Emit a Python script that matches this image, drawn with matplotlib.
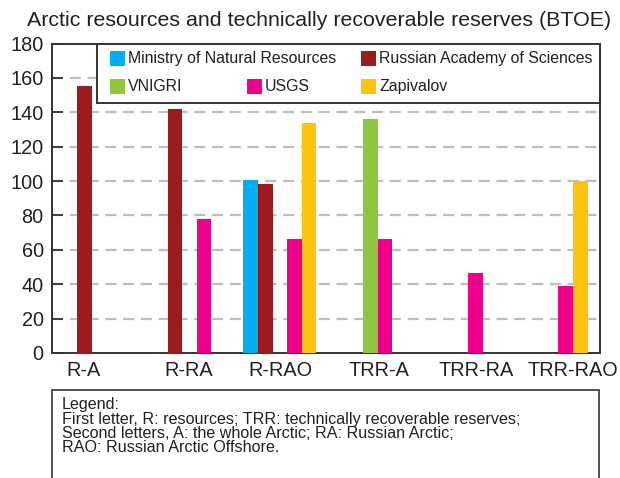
import numpy as np
import matplotlib
matplotlib.use("Agg")
import matplotlib.pyplot as plt
from matplotlib.patches import Rectangle

plt.rcParams['font.family'] = ['Liberation Sans', 'DejaVu Sans']

# data
groups = ["R-A", "R-RA", "R-RAO", "TRR-A", "TRR-RA", "TRR-RAO"]
series_names = ["Ministry of Natural Resources", "Russian Academy of Sciences",
                "VNIGRI", "USGS", "Zapivalov"]
ministry = [np.nan, np.nan, 100.5, np.nan, np.nan, np.nan]
ras = [155, 142, 98, np.nan, np.nan, np.nan]
vnigri = [np.nan, np.nan, np.nan, 136, np.nan, np.nan]
usgs = [np.nan, 78, 66.5, 66.5, 46.5, 39]
zapivalov = [np.nan, np.nan, 134, np.nan, np.nan, 100]
colors = ["#00aeef", "#9b1b1f", "#8dc63f", "#ec008c", "#ffc20e"]

notes = ["Legend:",
         "First letter, R: resources; TRR: technically recoverable reserves;",
         "Second letters, A: the whole Arctic; RA: Russian Arctic;",
         "RAO: Russian Arctic Offshore."]

W, H = 620, 478
txt = "#231f20"
edge = "#333333"


def px(x, y):
    # pixel position -> figure fraction
    return x / W, 1 - y / H


fig = plt.figure(figsize=(6.2, 4.78), dpi=100)
ax = fig.add_axes([52 / W, 1 - 353 / H, (600 - 52) / W, (353 - 43.5) / H])

x = np.arange(len(groups))
w = 0.1615
all_series = [ministry, ras, vnigri, usgs, zapivalov]
for k, vals in enumerate(all_series):
    ax.bar(x + (k - 2) * w, vals, w, color=colors[k], zorder=3, linewidth=0)

ax.set_xlim(-0.52, 5.54)
ax.set_ylim(0, 180)
ax.set_yticks(np.arange(0, 181, 20))
for v in range(20, 180, 20):
    ax.axhline(v, color="#bdbdbd", lw=1.6, ls=(0, (5, 3)), zorder=1)

# tick labels sit a bit off the group centres in the original
label_pos = [-0.17, 0.99, 2.0, 3.09, 4.17, 5.24]
ax.set_xticks(label_pos)
ax.set_xticklabels(groups)
ax.tick_params(axis="x", length=0, pad=6, labelsize=14.3, labelcolor=txt)
ax.tick_params(axis="y", direction="in", length=8, width=1.3, color=edge,
               pad=6, labelsize=14.3, labelcolor=txt)
for s in ax.spines.values():
    s.set_color(edge)
    s.set_linewidth(1.4)

fig.text(27 / W, 1 - 20 / H, "Arctic resources and technically recoverable reserves (BTOE)",
         fontsize=15.4, color=txt, va="center", ha="left")

# legend box at top right
x0, y0 = px(97, 103)
x1, y1 = px(600, 43.5)
ax.add_patch(Rectangle((x0, y0), x1 - x0, y1 - y0, transform=fig.transFigure,
                       facecolor="white", edgecolor=edge, lw=1.4, zorder=5, clip_on=False))
leg_pos = [(110, 58.5), (361, 58.5), (110, 86.5), (247, 86.5), (361, 86.5)]
for k, name in enumerate(series_names):
    lx, ly = leg_pos[k]
    bx, by = px(lx, ly + 7.5)
    ax.add_patch(Rectangle((bx, by), 15 / W, 15 / H, transform=fig.transFigure,
                           facecolor=colors[k], lw=0, zorder=6, clip_on=False))
    tx, ty = px(lx + 18, ly)
    fig.text(tx, ty, name, fontsize=11.4, color=txt, va="center", ha="left", zorder=7)

# note box at the bottom
bx0, by0 = px(52, 485)
bx1, by1 = px(599, 390)
fig.patches.append(Rectangle((bx0, by0), bx1 - bx0, by1 - by0, transform=fig.transFigure,
                             facecolor="white", edgecolor=edge, lw=1.2, figure=fig))
for i, line in enumerate(notes):
    tx, ty = px(62, 405 + i * 14.3)
    fig.text(tx, ty, line, fontsize=11.6, color=txt, va="center", ha="left")

fig.savefig("out.png", dpi=100)
